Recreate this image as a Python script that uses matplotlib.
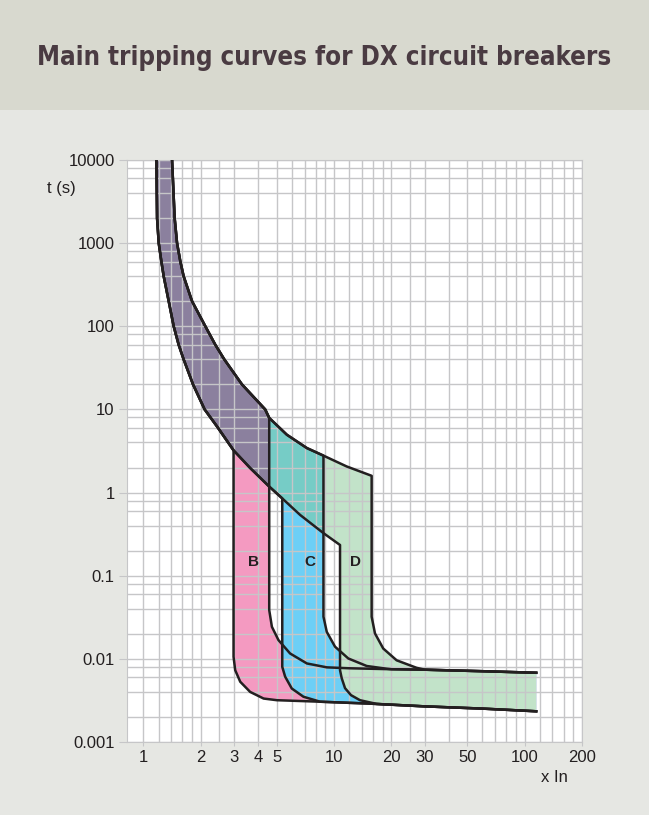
import matplotlib.pyplot as plt
from matplotlib.patches import Rectangle
from matplotlib.ticker import NullFormatter

plt.rcParams['font.family'] = ['Liberation Sans', 'DejaVu Sans']

# thermal band common to B, C and D  (x In, t in s)
therm_lo_x = [1.170, 1.179, 1.203, 1.242, 1.277, 1.357, 1.441, 1.530, 1.625, 1.820, 2.094, 2.432, 2.97, 3.633, 4.57, 5.35, 6.637, 8.8, 10.75]
therm_lo_t = [10000, 2000, 1000, 600, 400, 200, 100, 60, 40, 20, 10, 6.24, 3.22, 1.97, 1.18, 0.85, 0.538, 0.325, 0.234]
therm_hi_x = [1.413, 1.458, 1.501, 1.562, 1.625, 1.799, 2.112, 2.382, 2.655, 3.287, 4.352, 4.57, 5.655, 7.20, 8.8, 11.65, 15.75]
therm_hi_t = [10000, 2000, 1000, 600, 400, 200, 100, 60, 40, 20, 10, 7.9, 4.96, 3.43, 2.78, 2.06, 1.59]

# flat (instantaneous) parts
low_line_x = [8.45, 15, 30, 60, 115]
low_line_t = [0.00305, 0.0029, 0.00268, 0.00252, 0.00234]
up_line_x = [9.16, 12, 20, 30, 60, 115]
up_line_t = [0.0079, 0.0077, 0.0075, 0.0074, 0.0071, 0.0068]

# magnetic thresholds and the bends down to the flat parts
b_min_x = [2.97, 2.97, 3.03, 3.22, 3.63, 4.27, 5.01]
b_min_t = [3.22, 0.0106, 0.0073, 0.0053, 0.0040, 0.00333, 0.00318]
b_max_x = [4.57, 4.57, 4.72, 5.11, 5.88, 7.20]
b_max_t = [7.9, 0.0386, 0.0243, 0.0168, 0.0116, 0.0088]
c_min_x = [5.35, 5.35, 5.54, 6.0, 6.91]
c_min_t = [0.85, 0.0080, 0.0061, 0.0044, 0.0035]
c_max_x = [8.8, 8.8, 9.16, 10.12, 11.88, 14.84, 18.9]
c_max_t = [2.78, 0.0321, 0.0211, 0.0140, 0.0101, 0.0082, 0.0076]
d_min_x = [10.75, 10.75, 10.97, 11.42, 12.27, 13.68, 16.73]
d_min_t = [0.234, 0.0073, 0.00585, 0.00444, 0.00366, 0.00318, 0.00287]
d_max_x = [15.75, 15.75, 16.4, 18.12, 21.3, 27.1]
d_max_t = [1.59, 0.0321, 0.0202, 0.0133, 0.0096, 0.0078]

curve_names = ['B', 'C', 'D']
name_x = [3.77, 7.48, 12.9]
name_t = [0.146, 0.146, 0.146]

x_ticks = [1, 2, 3, 4, 5, 10, 20, 30, 50, 100, 200]
x_grid = [1, 1.2, 1.4, 1.6, 1.8, 2, 2.5, 3, 4, 5, 6, 7, 8, 9, 10, 12, 14, 16, 18, 20,
          25, 30, 40, 50, 60, 70, 80, 90, 100, 120, 140, 160, 180]
y_ticks = [0.001, 0.01, 0.1, 1, 10, 100, 1000, 10000]
y_labels = ['0.001', '0.01', '0.1', '1', '10', '100', '1000', '10000']
y_grid = [m * 10.0 ** k for k in range(-3, 4) for m in (2, 4, 6, 8)]


def build(tx, tt, bx, bt, lx, lt):
    # thermal part up to the threshold, then the bend, then the flat line
    xs = [a for a in tx if a < bx[0]]
    ts = [b for a, b in zip(tx, tt) if a < bx[0]]
    xs += bx
    ts += bt
    xs += [a for a in lx if a > bx[-1]]
    ts += [b for a, b in zip(lx, lt) if a > bx[-1]]
    return xs, ts


bmin = build(therm_lo_x, therm_lo_t, b_min_x, b_min_t, low_line_x, low_line_t)
bmax = build(therm_hi_x, therm_hi_t, b_max_x, b_max_t, up_line_x, up_line_t)
cmin = build(therm_lo_x, therm_lo_t, c_min_x, c_min_t, low_line_x, low_line_t)
cmax = build(therm_hi_x, therm_hi_t, c_max_x, c_max_t, up_line_x, up_line_t)
dmin = build(therm_lo_x, therm_lo_t, d_min_x, d_min_t, low_line_x, low_line_t)
dmax = build(therm_hi_x, therm_hi_t, d_max_x, d_max_t, up_line_x, up_line_t)

fig = plt.figure(figsize=(6.49, 8.15), dpi=100, facecolor='#e6e7e3')
fig.patches.append(Rectangle((0, 0.865), 1, 0.135, transform=fig.transFigure,
                             facecolor='#d8d9cf', edgecolor='none', zorder=0))
fig.text(0.5, 0.929, 'Main tripping curves for DX circuit breakers', ha='center', va='center',
         fontsize=18.5, fontweight='bold', fontstretch='condensed', color='#4a3b42',
         family=['DejaVu Sans'])

ax = fig.add_axes([0.1957, 0.0896, 0.7011, 0.7141])
ax.set_xscale('log')
ax.set_yscale('log')

# bands: B, then C, then D on top, then the thermal parts
for lo, hi, col in [(bmin, bmax, '#f49ac1'), (cmin, cmax, '#6dcff6'), (dmin, dmax, '#c2e3c9')]:
    ax.fill(lo[0] + hi[0][::-1], lo[1] + hi[1][::-1], color=col, lw=0, zorder=1)

px = [a for a in therm_hi_x if a <= 4.57] + [a for a in therm_lo_x if a <= 4.57][::-1]
pt = [b for a, b in zip(therm_hi_x, therm_hi_t) if a <= 4.57] + \
     [b for a, b in zip(therm_lo_x, therm_lo_t) if a <= 4.57][::-1]
ax.fill(px, pt, color='#8b809e', lw=0, zorder=1.5)
tx = [a for a in therm_hi_x if 4.57 <= a <= 8.8] + [a for a in therm_lo_x if 4.57 <= a <= 8.8][::-1]
tt = [b for a, b in zip(therm_hi_x, therm_hi_t) if 4.57 <= a <= 8.8] + \
     [b for a, b in zip(therm_lo_x, therm_lo_t) if 4.57 <= a <= 8.8][::-1]
ax.fill(tx, tt, color='#76ccc6', lw=0, zorder=1.5)

for c in [bmin, bmax, cmin, cmax, dmin, dmax]:
    ax.plot(c[0], c[1], color='#231f20', lw=1.8, zorder=3, solid_joinstyle='round')

for n, x, t in zip(curve_names, name_x, name_t):
    ax.text(x, t, n, ha='center', va='center', fontsize=11, fontweight='bold', color='#231f20', zorder=4)

ax.set_xlim(0.82, 200)
ax.set_ylim(0.001, 10000)
ax.set_xticks(x_ticks)
ax.set_xticklabels([str(v) for v in x_ticks])
ax.set_xticks(x_grid, minor=True)
ax.set_yticks(y_ticks)
ax.set_yticklabels(y_labels)
ax.set_yticks(y_grid, minor=True)
ax.xaxis.set_minor_formatter(NullFormatter())
ax.yaxis.set_minor_formatter(NullFormatter())
ax.grid(True, which='both', color='#c6c6c8', lw=1.0)
ax.set_axisbelow(False)
ax.tick_params(which='major', color='#c6c6c8', labelsize=12, labelcolor='#231f20')
ax.tick_params(axis='x', which='major', length=3, pad=3)
ax.tick_params(axis='y', which='major', length=6, pad=3)
ax.tick_params(which='minor', length=0)
for s in ax.spines.values():
    s.set_color('#c6c6c8')

fig.text(0.072, 0.769, 't (s)', ha='left', va='center', fontsize=12, color='#231f20')
fig.text(0.855, 0.046, 'x In', ha='center', va='center', fontsize=12, color='#231f20')

plt.savefig('out.png', dpi=100, facecolor=fig.get_facecolor())
